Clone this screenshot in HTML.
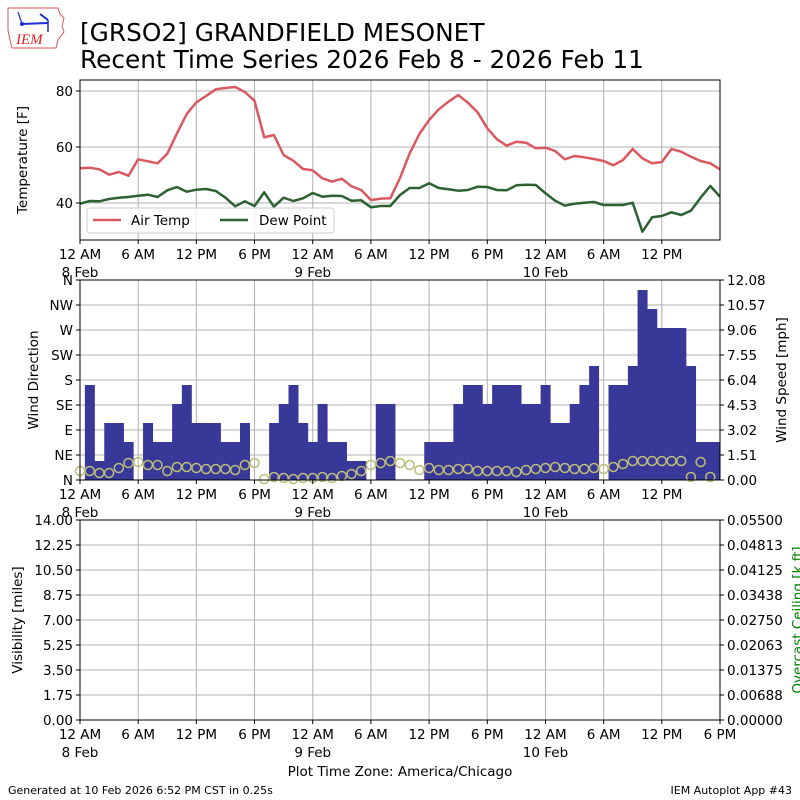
<!DOCTYPE html>
<html><head><meta charset="utf-8"><style>
html,body{margin:0;padding:0;background:#fff;}
svg{display:block;font-family:"DejaVu Sans","Liberation Sans",sans-serif;}
</style></head><body>
<svg id="s" width="800" height="800" viewBox="0 0 800 800" xmlns="http://www.w3.org/2000/svg">
<rect width="800" height="800" fill="#fff"/>
<g>
<path d="M8,8 L58,8 L60,14 L64,18 L62,26 L64,32 L58,40 L56,48 L12,48 L10,40 L8,30 Z" fill="#fff" stroke="#d55" stroke-width="1"/>
<line x1="22" y1="24" x2="48" y2="23" stroke="#1a2fd0" stroke-width="2"/>
<line x1="18" y1="12" x2="22" y2="24" stroke="#1a2fd0" stroke-width="1.2"/>
<circle cx="22" cy="24" r="2" fill="#1a2fd0"/>
<path d="M40,14 L48,20" stroke="#1a2fd0" stroke-width="2"/>
<line x1="48" y1="20" x2="48" y2="32" stroke="#1a2fd0" stroke-width="1.5"/>
<text x="16" y="44" font-family="Liberation Serif,serif" font-style="italic" font-size="15" fill="#d22">IEM</text>
</g>
<text x="80" y="41" font-size="24.8" fill="#000">[GRSO2] GRANDFIELD MESONET</text>
<text x="80" y="68" font-size="24.8" fill="#000">Recent Time Series 2026 Feb 8 - 2026 Feb 11</text>
<g id="grid" stroke="#b0b0b0" stroke-width="1"></g>
<g id="data"></g>
<g id="frames" fill="none" stroke="#000" stroke-width="1">
<rect x="80" y="80" width="640" height="160"/>
<rect x="80" y="280" width="640" height="200"/>
<rect x="80" y="520" width="640" height="200"/>
</g>
<g id="ticks" stroke="#000" stroke-width="1"></g>
<g id="labels" font-size="13.5" fill="#000"></g>
<g>
<rect x="87" y="208" width="247" height="25" rx="3" fill="#fff" fill-opacity="0.8" stroke="#ccc"/>
<line x1="93" y1="220" x2="121" y2="220" stroke="#d9595f" stroke-width="2.5"/>
<text x="131" y="225" font-size="13.5">Air Temp</text>
<line x1="220" y1="220" x2="248" y2="220" stroke="#2d6132" stroke-width="2.5"/>
<text x="259" y="225" font-size="13.5">Dew Point</text>
</g>
<text transform="translate(27,160) rotate(-90)" text-anchor="middle" font-size="13.5">Temperature [F]</text>
<text transform="translate(38,380) rotate(-90)" text-anchor="middle" font-size="13.5">Wind Direction</text>
<text transform="translate(786,380) rotate(-90)" text-anchor="middle" font-size="13.5">Wind Speed [mph]</text>
<text transform="translate(22,620) rotate(-90)" text-anchor="middle" font-size="13.5">Visibility [miles]</text>
<text transform="translate(802,620) rotate(-90)" text-anchor="middle" font-size="13.5" fill="green">Overcast Ceiling [k ft]</text>
<text x="400" y="776" text-anchor="middle" font-size="13.5">Plot Time Zone: America/Chicago</text>
<text x="8" y="794" font-size="11">Generated at 10 Feb 2026 6:52 PM CST in 0.25s</text>
<text x="792" y="794" text-anchor="end" font-size="11">IEM Autoplot App #43</text>
</svg>
<script>
var NS="http://www.w3.org/2000/svg";
function el(p,t,a,txt){var e=document.createElementNS(NS,t);for(var k in a)e.setAttribute(k,a[k]);if(txt!==undefined)e.textContent=txt;document.getElementById(p).appendChild(e);return e;}
var H=9.697;function X(k){return 80+H*k;}
var xs=[];for(var i=0;i<=11;i++)xs.push(80+i*640/11);
[[80,240],[280,480],[520,720]].forEach(function(p){xs.forEach(function(x){el("grid","line",{x1:x,y1:p[0],x2:x,y2:p[1]});});});
[91,147,203].forEach(function(y){el("grid","line",{x1:80,y1:y,x2:720,y2:y});});
for(var j=1;j<8;j++){el("grid","line",{x1:80,y1:480-25*j,x2:720,y2:480-25*j});el("grid","line",{x1:80,y1:720-25*j,x2:720,y2:720-25*j});}
var hl=["12 AM","6 AM","12 PM","6 PM"],dl={0:"8 Feb",4:"9 Feb",8:"10 Feb"};
[240,480,720].forEach(function(yb,pi){xs.forEach(function(x,i){if(i==11&&pi<2)return;
el("ticks","line",{x1:x,y1:yb,x2:x,y2:yb+4});
el("labels","text",{x:x,y:yb+19,"text-anchor":"middle"},hl[i%4]);
if(dl[i])el("labels","text",{x:x,y:yb+37,"text-anchor":"middle"},dl[i]);});});
[[91,"80"],[147,"60"],[203,"40"]].forEach(function(a){el("ticks","line",{x1:76,y1:a[0],x2:80,y2:a[0]});el("labels","text",{x:73,y:a[0]+5,"text-anchor":"end"},a[1]);});
var dirs=["N","NE","E","SE","S","SW","W","NW","N"],sp=["0.00","1.51","3.02","4.53","6.04","7.55","9.06","10.57","12.08"];
var vis=["0.00","1.75","3.50","5.25","7.00","8.75","10.50","12.25","14.00"],cg=["0.00000","0.00688","0.01375","0.02063","0.02750","0.03438","0.04125","0.04813","0.05500"];
for(var j=0;j<9;j++){var y=480-25*j,y2=720-25*j;
el("ticks","line",{x1:76,y1:y,x2:80,y2:y});el("ticks","line",{x1:720,y1:y,x2:724,y2:y});
el("ticks","line",{x1:76,y1:y2,x2:80,y2:y2});el("ticks","line",{x1:720,y1:y2,x2:724,y2:y2});
el("labels","text",{x:73,y:y+5,"text-anchor":"end"},dirs[j]);
el("labels","text",{x:727,y:y+5},sp[j]);
el("labels","text",{x:73,y:y2+5,"text-anchor":"end"},vis[j]);
el("labels","text",{x:727,y:y2+5},cg[j]);}
var bt=[385,461,423,423,442,0,423,442,442,404,385,423,423,423,442,442,423,0,0,423,404,385,423,442,404,442,442,461,461,0,404,404,0,0,0,442,442,442,404,385,385,404,385,385,385,404,404,385,423,423,404,385,366,0,385,385,366,290,309,328,328,328,366,442,442,442];
bt.forEach(function(t,k){if(!t)return;var x0=84.85+H*k,x1=Math.min(720,x0+H);el("data","rect",{x:x0,y:t,width:x1-x0+0.3,height:480-t,fill:"#383899"});});
var cy=[471,471,473,473,468,463,462,465,465,471,467,467,468,469,469,469,470,465,463,479,477,478,479,478,478,477,478,476,474,471,465,463,461,463,465,470,468,470,470,469,469,471,471,471,471,472,470,469,468,467,468,469,469,468,469,467,464,461,461,461,461,461,461,477,462,477];
cy.forEach(function(y,k){el("data","circle",{cx:X(k),cy:y,r:4.5,fill:"none",stroke:"#bdbd7a","stroke-width":1.5});});
var at=[168.3,167.7,169.3,174.7,172,175.7,159.3,161.3,163.3,153.7,133.3,114,102.3,96,89.3,88,87,92,100.7,137.3,135,155,160.7,169,170.3,178.3,181.7,178.7,186.3,190,200,198.7,198.3,178,153.3,134,120,109.3,101.7,95,102.7,112.3,128.3,139.3,145.7,141.7,142.7,148.3,147.7,151,159.3,156,157.3,159,161,165.3,160,149,158.3,163.3,162,149,151.7,156.7,161,163.3,169.3];
var dp=[203.7,201,201.3,199,197.7,197,195.7,194.7,197,190.3,187,191.7,189.7,189,191,197.7,206.3,201.3,206,192.3,206.7,197.7,201,198.3,193,196.7,195.7,196,200.7,200.3,207.3,206,206,195,188,188,183.3,188,189.3,190.7,190,186.7,187,190,190.3,185.3,184.7,185,193.3,200.7,205.7,203.7,202.7,202,205,205,205,202.7,231.7,217.3,216,212.3,215,210.7,197.7,186,196.7];
function pl(a){return a.map(function(y,k){return X(k).toFixed(1)+","+y;}).join(" ");}
el("data","polyline",{points:pl(at),fill:"none",stroke:"#d9595f","stroke-width":2.5,"stroke-linejoin":"round"});
el("data","polyline",{points:pl(dp),fill:"none",stroke:"#2d6132","stroke-width":2.5,"stroke-linejoin":"round"});
</script>
</body></html>
